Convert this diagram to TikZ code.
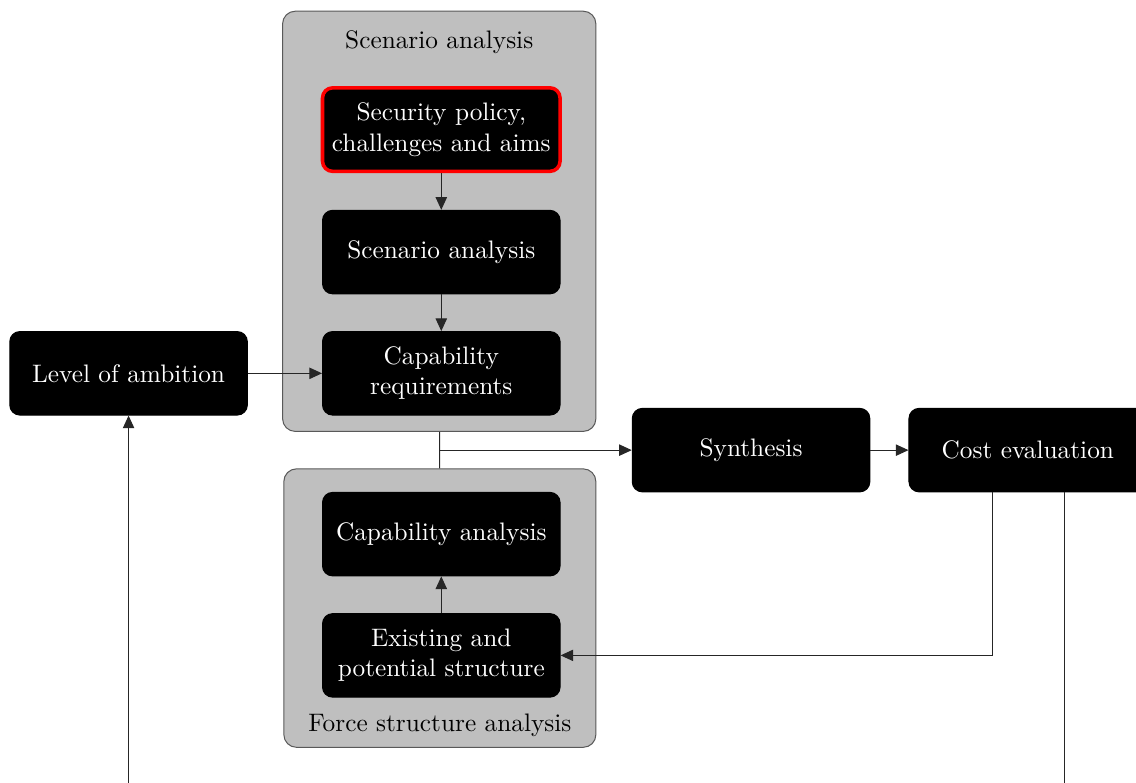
\documentclass[tikz,border=0pt]{standalone}
\usetikzlibrary{arrows.meta, positioning, calc, fit, backgrounds}

\begin{document}
\begin{tikzpicture}[
    box/.style={rectangle, draw=black, fill=black, text=white, rounded corners=4pt,
                minimum width=3.3cm, minimum height=1.16cm, align=center},
    keybox/.style={box, draw=red, line width=1.4pt},
    group/.style={rectangle, draw=black!65, fill=black!25, rounded corners=5pt, inner sep=0pt},
    arrow/.style={-{Triangle[length=5pt, width=4.5pt]}, black!85},
    line/.style={black!85},
    node distance=0.51cm
  ]
  \useasboundingbox (0,0) rectangle (15.78,-10.875);
  \clip (0,0) rectangle (15.78,-10.875);

  % scenario column
  \node[keybox] (policy) at (6.13,-1.80) {Security policy,\\challenges and aims};
  \node[box, below=of policy] (scen) {Scenario analysis};
  \node[box, below=of scen] (capreq) {Capability\\requirements};
  \node[box, left=1.03cm of capreq] (amb) {Level of ambition};

  % force structure column
  \node[box, below=1.06cm of capreq] (capana) {Capability analysis};
  \node[box, below=of capana] (exist) {Existing and\\potential structure};

  \begin{scope}[on background layer]
    \node[group, fit={($(policy.north west)+(-0.53,1.04)$) ($(capreq.south east)+(0.49,-0.22)$)}] (sgroup) {};
    \node[group, fit={($(capana.north west)+(-0.53,0.32)$) ($(exist.south east)+(0.49,-0.69)$)}] (fgroup) {};
  \end{scope}
  \node (stitle) at ($(sgroup.north)+(0,-0.44)$) {Scenario analysis};
  \node (ftitle) at ($(fgroup.south)+(0,0.31)$) {Force structure analysis};

  \draw[line] (sgroup) -- (fgroup);
  \coordinate (mid) at ($(sgroup.south)!0.5!(fgroup.north)$);
  \node[box, right=2.67cm of mid] (synth) {Synthesis};
  \node[box, right=0.53cm of synth] (cost) {Cost evaluation};

  \draw[arrow] (policy) -- (scen);
  \draw[arrow] (scen) -- (capreq);
  \draw[arrow] (amb) -- (capreq);
  \draw[arrow] (mid) -- (synth);
  \draw[arrow] (synth) -- (cost);
  \draw[arrow] ([xshift=-0.49cm]cost.south) |- (exist);
  \draw[arrow] (exist) -- (capana);
  \draw[arrow] ([xshift=0.51cm]cost.south) -- ++(0,-6) -| (amb);
\end{tikzpicture}
\end{document}
